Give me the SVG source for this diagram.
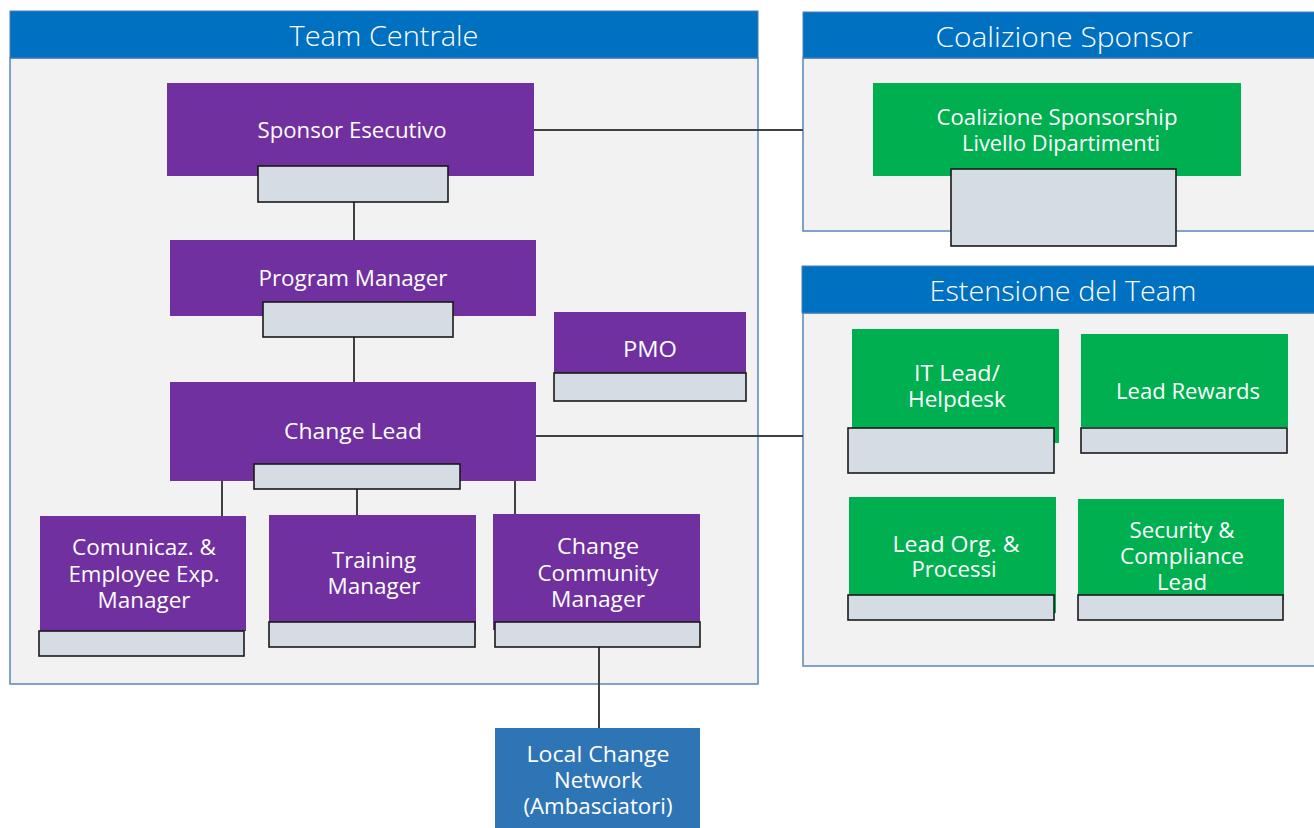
<svg xmlns="http://www.w3.org/2000/svg" width="1314" height="828" viewBox="0 0 1314 828">
<style>
.cont{fill:#f2f2f2;stroke:#5a86bb;stroke-width:1.5}
.hdr{fill:#0070c0;stroke:#4f7fb8;stroke-width:1}
.ht{fill:#fff;font-family:"Open Sans","Noto Sans",sans-serif;font-size:28px;font-weight:300;text-anchor:middle}
.pur{fill:#7030a0}
.grn{fill:#00b050}
.blu{fill:#2e75b6}
.gb{fill:#d6dce4;stroke:#1a1a1a;stroke-width:1.6}
.t{fill:#fff;font-family:"Open Sans","Noto Sans",sans-serif;font-size:22px;text-anchor:middle}
.ln{stroke:#404040;stroke-width:2;fill:none}
</style>
<rect width="1314" height="828" fill="#fff"/>
<g id="team-centrale">
<rect class="cont" x="10" y="58" width="748" height="626"/>
<rect class="hdr" x="10" y="11" width="748" height="47"/>
<text class="ht" x="384" y="46" textLength="189" lengthAdjust="spacingAndGlyphs">Team Centrale</text>
</g>
<g id="coalizione-sponsor">
<rect class="cont" x="803" y="58" width="520" height="173"/>
<rect class="hdr" x="803" y="12" width="520" height="46"/>
<text class="ht" x="1064" y="47" textLength="257" lengthAdjust="spacingAndGlyphs">Coalizione Sponsor</text>
</g>
<g id="estensione-team">
<rect class="cont" x="803" y="313" width="520" height="353"/>
<rect class="hdr" x="802" y="266" width="521" height="47"/>
<text class="ht" x="1063" y="301" textLength="267" lengthAdjust="spacingAndGlyphs">Estensione del Team</text>
</g>
<g id="connectors">
<line class="ln" x1="534" y1="130" x2="803" y2="130"/>
<line class="ln" x1="354" y1="202" x2="354" y2="240"/>
<line class="ln" x1="354" y1="337" x2="354" y2="382"/>
<line class="ln" x1="536" y1="436" x2="803" y2="436"/>
<line class="ln" x1="222" y1="481" x2="222" y2="516"/>
<line class="ln" x1="357" y1="489" x2="357" y2="515"/>
<line class="ln" x1="515" y1="481" x2="515" y2="514"/>
<line class="ln" x1="599" y1="647" x2="599" y2="728"/>
</g>
<g id="sponsor-esecutivo">
<rect class="pur" x="167" y="83" width="367" height="93"/>
<rect class="gb" x="258" y="166" width="190" height="36"/>
<text class="t" x="352" y="138" textLength="189" lengthAdjust="spacingAndGlyphs">Sponsor Esecutivo</text>
</g>
<g id="program-manager">
<rect class="pur" x="170" y="240" width="366" height="76"/>
<rect class="gb" x="263" y="302" width="190" height="35"/>
<text class="t" x="353" y="286" textLength="189" lengthAdjust="spacingAndGlyphs">Program Manager</text>
</g>
<g id="pmo">
<rect class="pur" x="554" y="312" width="192" height="62"/>
<rect class="gb" x="554" y="373" width="192" height="28"/>
<text class="t" x="650" y="357" textLength="54" lengthAdjust="spacingAndGlyphs">PMO</text>
</g>
<g id="change-lead">
<rect class="pur" x="170" y="382" width="366" height="99"/>
<rect class="gb" x="254" y="464" width="206" height="25"/>
<text class="t" x="353" y="439" textLength="138" lengthAdjust="spacingAndGlyphs">Change Lead</text>
</g>
<g id="comunicaz">
<rect class="pur" x="40" y="516" width="206" height="115"/>
<rect class="gb" x="39" y="631" width="205" height="25"/>
<text class="t" x="144" y="555" textLength="144" lengthAdjust="spacingAndGlyphs">Comunicaz. &amp;</text>
<text class="t" x="144" y="582" textLength="151" lengthAdjust="spacingAndGlyphs">Employee Exp.</text>
<text class="t" x="144" y="608" textLength="93" lengthAdjust="spacingAndGlyphs">Manager</text>
</g>
<g id="training-manager">
<rect class="pur" x="269" y="515" width="207" height="115"/>
<rect class="gb" x="269" y="622" width="206" height="25"/>
<text class="t" x="374" y="568" textLength="84" lengthAdjust="spacingAndGlyphs">Training</text>
<text class="t" x="374" y="594" textLength="93" lengthAdjust="spacingAndGlyphs">Manager</text>
</g>
<g id="change-community-manager">
<rect class="pur" x="493" y="514" width="207" height="116"/>
<rect class="gb" x="495" y="622" width="205" height="25"/>
<text class="t" x="598" y="554" textLength="82" lengthAdjust="spacingAndGlyphs">Change</text>
<text class="t" x="598" y="581" textLength="121" lengthAdjust="spacingAndGlyphs">Community</text>
<text class="t" x="598" y="607" textLength="94" lengthAdjust="spacingAndGlyphs">Manager</text>
</g>
<g id="local-change-network">
<rect class="blu" x="495" y="728" width="205" height="100"/>
<text class="t" x="598" y="762" textLength="143" lengthAdjust="spacingAndGlyphs">Local Change</text>
<text class="t" x="598" y="788" textLength="88" lengthAdjust="spacingAndGlyphs">Network</text>
<text class="t" x="598" y="814" textLength="149" lengthAdjust="spacingAndGlyphs">(Ambasciatori)</text>
</g>
<g id="coalizione-sponsorship">
<rect class="grn" x="873" y="83" width="368" height="93"/>
<rect class="gb" x="951" y="169" width="225" height="77"/>
<text class="t" x="1057" y="125" textLength="241" lengthAdjust="spacingAndGlyphs">Coalizione Sponsorship</text>
<text class="t" x="1061" y="151" textLength="198" lengthAdjust="spacingAndGlyphs">Livello Dipartimenti</text>
</g>
<g id="it-lead">
<rect class="grn" x="852" y="329" width="207" height="114"/>
<rect class="gb" x="848" y="428" width="206" height="45"/>
<text class="t" x="957" y="381" textLength="86" lengthAdjust="spacingAndGlyphs">IT Lead/</text>
<text class="t" x="957" y="407" textLength="98" lengthAdjust="spacingAndGlyphs">Helpdesk</text>
</g>
<g id="lead-rewards">
<rect class="grn" x="1081" y="334" width="207" height="93"/>
<rect class="gb" x="1081" y="428" width="206" height="25"/>
<text class="t" x="1188" y="399" textLength="144" lengthAdjust="spacingAndGlyphs">Lead Rewards</text>
</g>
<g id="lead-org">
<rect class="grn" x="849" y="497" width="207" height="116"/>
<rect class="gb" x="848" y="595" width="206" height="25"/>
<text class="t" x="956" y="552" textLength="127" lengthAdjust="spacingAndGlyphs">Lead Org. &amp;</text>
<text class="t" x="954" y="577" textLength="85" lengthAdjust="spacingAndGlyphs">Processi</text>
</g>
<g id="security-compliance">
<rect class="grn" x="1078" y="499" width="206" height="101"/>
<rect class="gb" x="1078" y="595" width="205" height="25"/>
<text class="t" x="1182" y="538" textLength="105" lengthAdjust="spacingAndGlyphs">Security &amp;</text>
<text class="t" x="1182" y="564" textLength="124" lengthAdjust="spacingAndGlyphs">Compliance</text>
<text class="t" x="1182" y="590" textLength="50" lengthAdjust="spacingAndGlyphs">Lead</text>
</g>
</svg>
